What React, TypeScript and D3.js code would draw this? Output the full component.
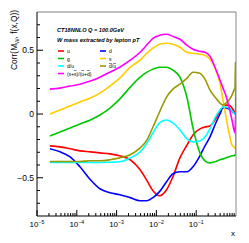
import * as d3 from 'd3';

const W = 249;
const H = 243;
const left = 37;
const right = 236;
const top = 12;
const bottom = 216;

// x grid shared by all curves
const xGrid = [
  2.1e-5, 3.8e-5, 6.8e-5, 1.2e-4, 2.2e-4, 3.8e-4, 6.8e-4, 1.2e-3, 2.2e-3, 3.9e-3,
  5.8e-3, 8.2e-3, 0.012, 0.018, 0.026, 0.039, 0.059, 0.083, 0.124, 0.166,
  0.222, 0.296, 0.396, 0.471, 0.561, 0.667, 0.793, 0.891, 0.944, 0.97, 1.0,
];

const uCorr = [
  -0.25, -0.258, -0.273, -0.289, -0.297, -0.305, -0.313, -0.328, -0.359, -0.438,
  -0.523, -0.602, -0.641, -0.594, -0.492, -0.344, -0.242, -0.164, -0.117, -0.102,
  -0.094, -0.047, 0.023, 0.055, 0.07, 0.07, 0.047, 0.023, 0.008, 0.008, 0,
];
const dCorr = [
  -0.273, -0.297, -0.336, -0.414, -0.516, -0.586, -0.617, -0.633, -0.656, -0.68,
  -0.68, -0.656, -0.609, -0.531, -0.469, -0.453, -0.453, -0.414, -0.328, -0.25,
  -0.18, -0.086, 0, 0.047, 0.047, 0.039, 0.023, 0.008, 0.008, 0.008, 0,
];
const gCorr = [
  -0.172, -0.141, -0.109, -0.078, -0.047, -0.008, 0.047, 0.117, 0.211, 0.289,
  0.328, 0.352, 0.367, 0.367, 0.344, 0.289, 0.125, -0.109, -0.305, -0.367,
  -0.383, -0.375, -0.359, -0.352, -0.344, -0.336, -0.328, -0.328, -0.32, -0.32, -0.32,
];
const sCorr = [
  0, 0.031, 0.063, 0.094, 0.125, 0.164, 0.219, 0.281, 0.367, 0.422,
  0.477, 0.516, 0.547, 0.555, 0.547, 0.523, 0.484, 0.477, 0.469, 0.461,
  0.43, 0.359, 0.242, 0.109, -0.023, -0.148, -0.242, -0.258, -0.266, -0.266, -0.266,
];
const duCorr = [
  -0.38, -0.38, -0.38, -0.38, -0.38, -0.38, -0.378, -0.375, -0.344, -0.297,
  -0.227, -0.148, -0.07, -0.047, -0.07, -0.125, -0.195, -0.219, -0.211, -0.18,
  -0.117, -0.031, 0.031, 0.055, 0.055, 0.047, 0.023, 0.008, 0, 0, -0.008,
];
const dbubCorr = [
  -0.372, -0.372, -0.372, -0.372, -0.367, -0.367, -0.359, -0.344, -0.32, -0.266,
  -0.203, -0.102, 0.016, 0.133, 0.195, 0.234, 0.281, 0.328, 0.32, 0.273,
  0.188, 0.133, 0.086, 0.07, 0.086, 0.109, 0.148, 0.188, 0.203, 0.406, -0.32,
];
const ssCorr = [
  0.195, 0.203, 0.219, 0.234, 0.258, 0.289, 0.328, 0.367, 0.422, 0.484,
  0.543, 0.594, 0.617, 0.625, 0.609, 0.586, 0.539, 0.508, 0.492, 0.484,
  0.453, 0.367, 0.266, 0.203, 0.141, 0.055, -0.047, -0.125, -0.148, -0.06, 0.125,
];

const xMajor = [1e-5, 1e-4, 1e-3, 1e-2, 1e-1];
const xExp = ['-5', '-4', '-3', '-2', '-1'];
const yMajor = [-0.5, 0, 0.5];
const yLabels = ['\u22120.5', '0', '0.5'];

const series = [
  { values: uCorr, color: '#ff0000' },
  { values: dCorr, color: '#0000ff' },
  { values: gCorr, color: '#00c800' },
  { values: sCorr, color: '#ffcc00' },
  { values: duCorr, color: '#00ffff' },
  { values: dbubCorr, color: '#999900' },
  { values: ssCorr, color: '#ff00ff' },
];

const sans = 'Liberation Sans, Arial, sans-serif';

const Bar = ({ children }: { children: string }) => (
  <tspan style={{ textDecoration: 'overline' }}>{children}</tspan>
);

export default function App() {
  const x = d3.scaleLog().domain([1e-5, 1]).range([left, right]);
  const y = d3.scaleLinear().domain([-0.8, 0.8]).range([bottom, top]);

  const line = d3
    .line<number>()
    .x((d, i) => x(xGrid[i]))
    .y((d) => y(d))
    .curve(d3.curveMonotoneX);

  const xMinor: number[] = [];
  for (let e = -5; e < 0; e++) {
    for (let k = 2; k <= 9; k++) xMinor.push(k * Math.pow(10, e));
  }
  const yMinor = d3.range(-7, 8).map((v) => v / 10).filter((v) => Math.abs(v * 2 - Math.round(v * 2)) > 1e-6);

  const legendRows = [
    { color: '#ff0000', col: 0, row: 0, label: <tspan>u</tspan> },
    { color: '#0000ff', col: 1, row: 0, label: <tspan>d</tspan> },
    { color: '#00c800', col: 0, row: 1, label: <tspan>g</tspan> },
    { color: '#ffcc00', col: 1, row: 1, label: <tspan>s</tspan> },
    { color: '#00ffff', col: 0, row: 2, label: <tspan>d/u</tspan> },
    {
      color: '#999900', col: 1, row: 2,
      label: (<><Bar>d</Bar><tspan>/</tspan><Bar>u</Bar></>),
    },
    {
      color: '#ff00ff', col: 0, row: 3,
      label: (<><tspan>(s+</tspan><Bar>s</Bar><tspan>)/(</tspan><Bar>u</Bar><tspan>+</tspan><Bar>d</Bar><tspan>)</tspan></>),
    },
  ];

  return (
    <div style={{ position: 'absolute', left: 0, top: 0 }}>
      <svg width={W} height={H} style={{ display: 'block', background: '#fff' }}>
        <defs>
          <clipPath id="plot">
            <rect x={left} y={top} width={right - left} height={bottom - top} />
          </clipPath>
        </defs>

        <g clipPath="url(#plot)">
          {series.map((s, i) => (
            <path key={i} d={line(s.values) || ''} fill="none" stroke={s.color} strokeWidth={1.6} />
          ))}
        </g>

        {/* frame */}
        <line x1={left} x2={right} y1={top} y2={top} stroke="#aaa" strokeWidth={1.5} />
        <line x1={right} x2={right} y1={top} y2={bottom} stroke="#888" strokeWidth={1} />
        <line x1={left} x2={left} y1={top} y2={bottom} stroke="#000" strokeWidth={1} />
        <line x1={left} x2={right} y1={bottom} y2={bottom} stroke="#000" strokeWidth={1} />

        {/* y ticks */}
        {yMajor.map((v, i) => (
          <g key={'ym' + i}>
            <line x1={left} x2={left + 6} y1={y(v)} y2={y(v)} stroke="#000" />
            <text x={left - 3} y={y(v) + 3} textAnchor="end" fontFamily={sans} fontSize={8.5}>
              {yLabels[i]}
            </text>
          </g>
        ))}
        {yMinor.map((v, i) => (
          <line key={'yn' + i} x1={left} x2={left + 3} y1={y(v)} y2={y(v)} stroke="#000" />
        ))}

        {/* x ticks */}
        {xMajor.map((v, i) => (
          <g key={'xm' + i}>
            <line x1={x(v)} x2={x(v)} y1={bottom} y2={bottom - 6} stroke="#000" />
            <text x={x(v)} y={227} textAnchor="middle" fontFamily={sans} fontSize={8}>
              10
              <tspan dy={-3.5} fontSize={5.2}>{'\u2212' + xExp[i].slice(1)}</tspan>
            </text>
          </g>
        ))}
        {xMinor.map((v, i) => (
          <line key={'xn' + i} x1={x(v)} x2={x(v)} y1={bottom} y2={bottom - 3} stroke="#000" />
        ))}

        {/* axis titles */}
        <text x={233} y={236} textAnchor="middle" fontFamily={sans} fontSize={8}>x</text>
        <text
          transform="translate(17,10) rotate(-90)"
          textAnchor="end"
          fontFamily={sans}
          fontSize={8.4}
        >
          Corr(M<tspan dy={2} fontSize={5.8}>W</tspan>
          <tspan dy={-2}>, f(x,Q))</tspan>
        </text>

        {/* header */}
        <text x={57} y={32} fontFamily={sans} fontSize={5.6} fontWeight="bold" fontStyle="italic">
          CT18NNLO Q = 100.0GeV
        </text>
        <text x={57} y={42} fontFamily={sans} fontSize={5.6} fontWeight="bold" fontStyle="italic">
          W mass extracted by lepton pT
        </text>

        {/* legend */}
        {legendRows.map((r, i) => {
          const lx = r.col === 0 ? 58 : 100;
          const ly = 51 + r.row * 7.5;
          return (
            <g key={'lg' + i}>
              <line x1={lx} x2={lx + 6} y1={ly} y2={ly} stroke={r.color} strokeWidth={1.6} />
              <text x={lx + 9} y={ly + 2} fontFamily={sans} fontSize={5}>
                {r.label}
              </text>
            </g>
          );
        })}
      </svg>
    </div>
  );
}
